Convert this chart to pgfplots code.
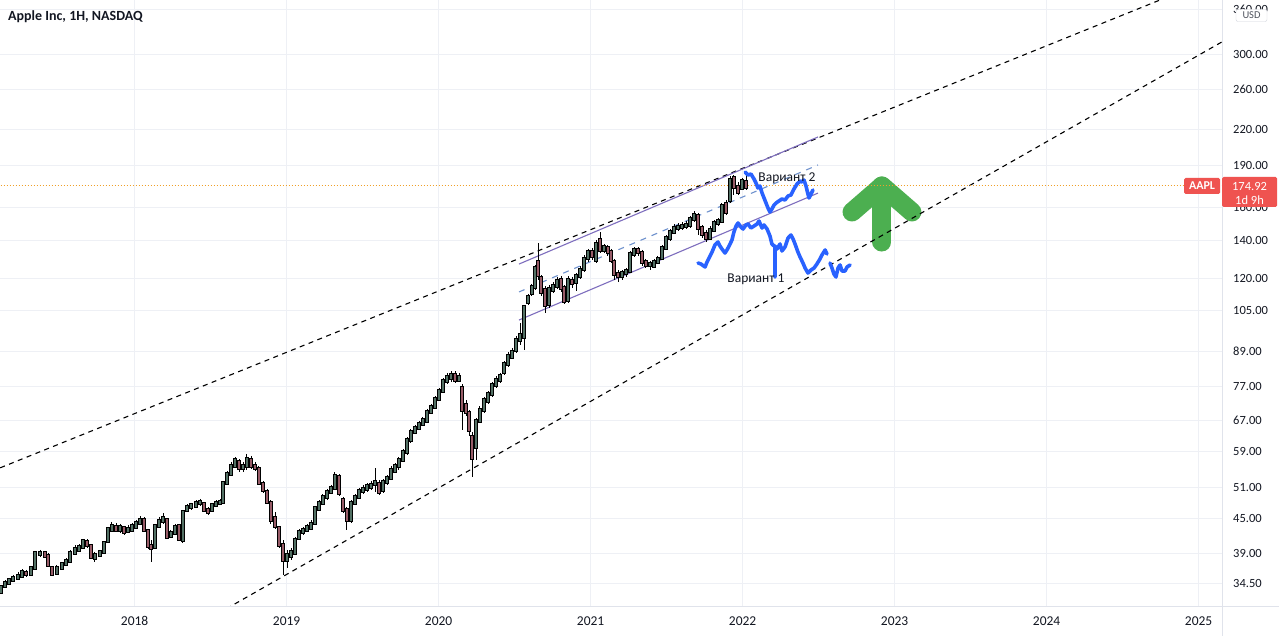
\documentclass[border=0pt]{standalone}
\usepackage{fontspec}
\setmainfont{Carlito}
\usepackage{pgfplots}
\usepackage{pgfplotstable}
\pgfplotsset{compat=1.18}
\definecolor{gridc}{RGB}{238,240,245}
\definecolor{axisc}{RGB}{224,227,235}
\definecolor{txt}{RGB}{19,23,34}
\definecolor{upc}{RGB}{82,112,100}
\definecolor{dnc}{RGB}{152,92,104}
\definecolor{purp}{RGB}{126,110,190}
\definecolor{midc}{RGB}{110,145,205}
\definecolor{bluec}{RGB}{41,98,255}
\definecolor{greenc}{RGB}{76,175,80}
\definecolor{redc}{RGB}{239,83,80}
\definecolor{orangec}{RGB}{240,160,40}

\pgfplotstableread{
x o h l c
2017.121 33.26 34.22 32.99 33.94
2017.148 34.08 34.93 33.81 34.50
2017.174 34.50 35.22 34.22 34.93
2017.200 34.93 35.65 34.65 35.22
2017.233 35.22 36.09 34.93 35.51
2017.259 35.51 36.53 35.22 36.09
2017.286 35.95 36.39 35.36 35.80
2017.318 35.80 36.98 35.51 36.68
2017.345 36.68 39.33 36.39 39.01
2017.378 38.85 39.49 38.38 39.01
2017.411 39.01 39.33 38.22 38.53
2017.430 38.53 39.01 36.83 37.13
2017.457 36.68 36.98 35.51 35.80
2017.489 35.95 37.13 35.65 36.68
2017.522 36.68 37.59 36.39 37.29
2017.549 37.29 38.22 36.98 37.75
2017.575 37.75 39.49 37.44 39.01
2017.608 39.01 40.30 38.69 39.64
2017.634 39.49 40.46 39.17 39.97
2017.661 39.97 41.30 39.64 40.96
2017.687 40.80 41.30 39.81 40.30
2017.713 40.13 40.46 38.06 38.38
2017.739 38.22 39.17 37.59 38.69
2017.772 38.69 39.49 38.53 39.17
2017.799 39.17 40.96 38.85 40.63
2017.825 40.96 43.38 40.63 43.03
2017.851 42.85 44.28 42.50 43.56
2017.878 43.38 44.10 42.50 42.85
2017.904 42.85 43.92 42.33 43.38
2017.930 43.20 43.56 41.98 42.50
2017.957 42.67 43.74 42.33 43.03
2017.983 42.85 44.10 42.50 43.56
2018.009 43.38 44.64 43.03 44.10
2018.036 44.10 45.37 43.74 44.64
2018.062 44.64 45.19 42.50 42.85
2018.088 42.67 43.03 39.64 40.13
2018.108 40.13 41.13 37.59 39.81
2018.134 39.97 43.92 39.64 43.56
2018.161 43.56 45.19 43.20 44.46
2018.187 44.46 45.93 43.92 45.00
2018.213 44.64 45.00 41.30 41.64
2018.239 41.81 42.85 41.47 42.33
2018.266 42.33 43.92 41.98 43.38
2018.292 43.56 43.92 40.96 41.30
2018.318 41.13 46.50 40.63 46.12
2018.345 46.50 47.65 46.12 47.07
2018.371 47.07 47.85 46.50 47.46
2018.404 47.27 48.44 46.88 47.85
2018.430 47.85 48.64 47.27 48.05
2018.457 47.65 48.05 46.12 46.50
2018.483 46.50 47.07 45.56 46.12
2018.509 46.50 47.85 46.12 47.46
2018.536 47.46 48.44 47.07 47.85
2018.562 47.85 48.64 47.46 48.05
2018.582 48.05 52.36 47.65 51.93
2018.608 51.93 54.54 51.51 53.87
2018.634 53.87 56.59 53.43 55.67
2018.661 55.67 57.75 55.21 57.05
2018.687 56.59 57.28 54.31 55.21
2018.713 55.21 56.59 54.31 55.67
2018.739 55.67 58.47 54.76 57.28
2018.766 57.05 57.99 54.99 55.67
2018.792 55.67 56.59 54.54 55.21
2018.818 54.99 55.67 51.51 51.93
2018.845 51.72 52.36 49.84 50.46
2018.871 50.05 50.67 47.65 48.05
2018.897 47.85 48.44 43.92 44.64
2018.924 45.00 46.12 43.03 43.56
2018.950 43.20 43.56 39.81 40.30
2018.976 40.30 41.13 35.65 37.90
2019.003 37.90 39.49 36.68 38.69
2019.029 38.53 39.81 37.90 39.17
2019.055 39.01 41.64 38.69 41.13
2019.082 41.47 43.03 41.13 42.50
2019.108 42.50 43.38 41.98 42.85
2019.134 42.85 43.92 42.50 43.38
2019.161 43.20 44.64 42.85 43.92
2019.187 44.10 47.27 43.74 46.88
2019.213 46.69 48.44 46.31 47.85
2019.239 47.85 49.64 47.46 49.04
2019.266 49.04 50.67 48.44 50.05
2019.292 50.05 51.51 49.64 50.88
2019.318 50.88 54.31 50.46 53.43
2019.345 53.21 53.87 49.24 49.84
2019.371 48.44 49.04 45.93 46.50
2019.397 46.50 47.07 42.85 44.64
2019.424 44.64 48.44 44.10 47.85
2019.450 47.85 49.64 47.46 49.04
2019.476 49.04 50.88 48.64 50.25
2019.503 50.25 51.51 49.64 50.67
2019.529 50.67 51.93 50.05 51.30
2019.555 51.09 52.36 50.46 51.51
2019.582 51.72 55.21 50.05 52.14
2019.608 51.72 52.57 49.44 50.05
2019.634 50.46 52.78 49.84 52.14
2019.661 52.14 53.65 51.51 53.00
2019.687 53.00 55.67 52.57 54.76
2019.713 54.54 56.35 54.09 55.67
2019.739 55.67 57.75 54.76 57.05
2019.766 57.05 59.67 56.59 58.95
2019.792 58.95 62.67 58.23 61.91
2019.818 61.91 64.76 61.16 63.97
2019.845 63.97 65.83 63.45 65.03
2019.871 65.03 66.92 64.49 66.10
2019.897 66.10 68.02 65.56 67.19
2019.924 66.92 70.28 66.37 69.42
2019.950 69.42 71.73 68.86 70.85
2019.976 70.85 74.11 70.28 73.21
2020.003 73.21 76.57 72.61 75.64
2020.029 75.64 79.77 75.02 78.80
2020.055 78.80 81.42 77.84 80.10
2020.082 79.77 82.08 78.48 80.75
2020.108 80.75 82.08 78.16 79.12
2020.134 79.12 81.42 78.48 80.10
2020.154 76.57 77.84 64.49 69.99
2020.180 71.44 72.91 68.29 69.42
2020.200 69.14 69.99 62.93 64.49
2020.220 62.67 63.97 53.21 57.52
2020.246 60.16 67.74 57.05 66.92
2020.272 66.92 71.14 66.37 69.99
2020.299 69.99 73.81 69.14 72.91
2020.325 72.61 75.64 71.73 74.72
2020.351 74.72 78.48 73.81 77.52
2020.378 77.52 80.42 76.57 79.12
2020.404 79.12 81.42 78.16 80.42
2020.430 81.75 85.51 80.75 84.47
2020.457 84.47 88.72 83.44 87.28
2020.483 86.93 90.18 86.22 88.72
2020.509 89.45 94.72 88.36 93.18
2020.536 93.18 99.89 91.30 95.11
2020.562 94.33 107.51 89.45 106.63
2020.588 108.84 112.46 107.51 111.09
2020.614 112.92 117.15 111.54 115.72
2020.634 115.72 126.62 114.31 125.07
2020.654 128.18 138.53 119.08 121.54
2020.674 120.06 121.54 111.54 113.38
2020.700 114.31 116.19 104.06 107.51
2020.726 107.95 116.67 106.20 114.78
2020.753 114.31 118.11 112.92 116.19
2020.779 116.19 120.55 114.78 118.59
2020.805 119.08 121.04 113.38 115.25
2020.825 115.25 116.67 107.95 109.28
2020.851 109.73 121.04 108.39 119.08
2020.878 118.59 120.55 115.25 117.63
2020.904 118.11 122.54 113.84 121.04
2020.930 121.04 126.10 119.57 124.05
2020.957 124.56 131.90 123.04 129.76
2020.983 130.29 135.17 128.18 133.52
2021.009 133.52 135.73 129.23 131.36
2021.036 129.23 140.24 127.65 137.97
2021.062 140.24 144.90 132.98 134.62
2021.088 134.62 137.97 132.98 136.28
2021.114 135.73 137.40 131.36 133.52
2021.134 133.52 135.17 127.65 129.23
2021.154 128.18 129.76 119.08 122.04
2021.180 122.04 124.05 118.11 121.04
2021.207 121.04 124.05 119.08 122.54
2021.233 122.54 125.07 120.55 123.54
2021.259 123.54 134.07 122.54 132.44
2021.286 132.44 136.28 130.82 134.62
2021.312 134.62 136.28 131.36 133.52
2021.338 132.98 134.62 126.10 128.18
2021.364 128.18 129.76 125.07 126.62
2021.391 126.62 128.70 124.05 127.13
2021.417 126.10 129.76 125.07 128.18
2021.443 128.18 131.36 127.13 129.76
2021.470 130.29 137.40 129.23 135.73
2021.496 135.73 143.13 134.62 141.39
2021.522 141.39 146.69 139.67 144.90
2021.549 144.90 149.72 143.72 147.29
2021.575 147.29 150.33 145.49 147.90
2021.601 147.90 150.95 146.09 148.50
2021.628 148.50 151.57 146.69 149.11
2021.654 149.11 154.70 147.29 152.81
2021.680 152.81 157.89 150.95 155.33
2021.707 154.70 156.61 143.13 147.29
2021.733 147.29 149.11 141.39 143.72
2021.759 143.72 146.09 139.10 141.39
2021.786 141.39 148.50 140.24 146.09
2021.812 146.09 152.19 144.90 150.33
2021.838 150.33 153.44 148.50 151.57
2021.864 151.57 163.15 150.33 161.16
2021.891 162.48 165.16 155.33 157.25
2021.917 165.16 182.19 163.15 179.23
2021.943 180.70 182.93 168.57 174.17
2021.970 174.17 177.77 168.57 170.65
2021.996 173.46 180.70 172.05 178.50
2022.022 177.77 184.43 172.05 174.17
}\candles

\begin{document}
\begin{tikzpicture}
\path[use as bounding box] (0,0) rectangle (1279pt,636pt);
\fill[white] (0,0) rectangle (1279pt,636pt);
\begin{axis}[
  at={(0pt,29pt)}, anchor=south west, scale only axis,
  width=1222pt, height=607pt,
  xmin=2017.1145, xmax=2025.154,
  ymode=log, ymin=31.28, ymax=374.2,
  axis line style={draw=none},
  major tick length=0pt,
  grid=major, major grid style={draw=gridc, line width=1pt},
  xtick={2018,2019,2020,2021,2022,2023,2024,2025},
  xticklabels={2018,2019,2020,2021,2022,2023,2024,2025},
  xticklabel style={anchor=center, yshift=-14pt, font=\fontsize{13.5}{14}\selectfont, text=txt},
  ytick={34.5,39,45,51,59,67,77,89,105,120,140,160,190,220,260,300,360},
  yticklabels={34.50,39.00,45.00,51.00,59.00,67.00,77.00,89.00,105.00,120.00,140.00,160.00,190.00,220.00,260.00,300.00,360.00},
  yticklabel pos=right,
  yticklabel style={anchor=west, inner sep=0pt, xshift=11pt, font=\fontsize{12.5}{14}\selectfont, text=txt},
  clip=true,
]
% green arrow
\addplot[greenc, line width=19pt, line cap=round, line join=round] coordinates {(2022.917,139.10) (2022.917,174.89)};
\addplot[greenc, line width=19pt, line cap=round, line join=round] coordinates {(2022.720,157.25) (2022.917,174.89) (2023.114,157.25)};
% long dashed trend lines
\addplot[black, line width=1.1pt, dash pattern=on 5pt off 4.5pt] coordinates {(2017.0,53.67) (2025.2,419.2)};
\addplot[black, line width=1.1pt, dash pattern=on 5pt off 4.5pt] coordinates {(2018.55,30.47) (2025.3,332.0)};
% regression channel
\addplot[purp, line width=1.1pt] coordinates {(2020.529,127.1) (2022.496,213.7)};
\addplot[midc, line width=1.1pt, dash pattern=on 6pt off 6pt] coordinates {(2020.529,113.4) (2022.496,190.6)};
\addplot[purp, line width=1.1pt] coordinates {(2020.529,101.1) (2022.496,169.9)};
% last price line
\addplot[orangec, line width=1pt, dash pattern=on 1pt off 2pt] coordinates {(2017.0,174.92) (2025.3,174.92)};
% candles: wicks
\addplot[draw=none, mark=none, error bars/.cd, y dir=both, y explicit, error mark=none,
  error bar style={draw=black, line width=0.9pt}]
  table[x=x, y=h, y error plus expr=0, y error minus expr={\thisrow{h}-\thisrow{l}}] {\candles};
% up bodies
\addplot[draw=none, mark=none, restrict expr to domain={\thisrow{c}-\thisrow{o}}{0:1000},
  error bars/.cd, y dir=both, y explicit, error mark=none,
  error bar style={draw=black, line width=3.4pt, line cap=rect}]
  table[x=x, y=c, y error plus expr=0, y error minus expr={\thisrow{c}-\thisrow{o}}] {\candles};
\addplot[draw=none, mark=none, restrict expr to domain={\thisrow{c}-\thisrow{o}}{0:1000},
  error bars/.cd, y dir=both, y explicit, error mark=none,
  error bar style={draw=upc, line width=1.6pt, line cap=rect}]
  table[x=x, y=c, y error plus expr=0, y error minus expr={\thisrow{c}-\thisrow{o}}] {\candles};
% down bodies
\addplot[draw=none, mark=none, restrict expr to domain={\thisrow{o}-\thisrow{c}}{0.00001:1000},
  error bars/.cd, y dir=both, y explicit, error mark=none,
  error bar style={draw=black, line width=3.4pt, line cap=rect}]
  table[x=x, y=o, y error plus expr=0, y error minus expr={\thisrow{o}-\thisrow{c}}] {\candles};
\addplot[draw=none, mark=none, restrict expr to domain={\thisrow{o}-\thisrow{c}}{0.00001:1000},
  error bars/.cd, y dir=both, y explicit, error mark=none,
  error bar style={draw=dnc, line width=1.6pt, line cap=rect}]
  table[x=x, y=o, y error plus expr=0, y error minus expr={\thisrow{o}-\thisrow{c}}] {\candles};
% scenario 2
\addplot[bluec, line width=3.6pt, line join=round, line cap=round] coordinates {
(2022.016,185.19)(2022.036,182.93)(2022.055,183.68)(2022.075,179.97)(2022.088,177.05)(2022.101,173.46)(2022.114,174.89)(2022.128,169.95)(2022.141,166.52)(2022.154,163.15)(2022.167,159.85)(2022.180,157.25)(2022.193,159.20)(2022.207,161.82)(2022.220,163.15)(2022.239,164.49)(2022.259,165.84)(2022.279,165.16)(2022.299,167.88)(2022.318,168.57)(2022.338,172.76)(2022.358,176.32)(2022.378,178.50)(2022.391,177.77)(2022.404,179.23)(2022.417,174.89)(2022.430,169.26)(2022.437,166.52)(2022.450,169.26)(2022.463,172.05)};
% scenario 1
\addplot[bluec, line width=3.6pt, line join=round, line cap=round] coordinates {
(2021.707,127.65)(2021.726,127.13)(2021.753,125.59)(2021.766,128.18)(2021.786,131.36)(2021.799,133.52)(2021.818,137.40)(2021.838,139.10)(2021.851,136.84)(2021.864,135.17)(2021.884,132.98)(2021.897,134.62)(2021.911,136.84)(2021.930,140.24)(2021.943,144.90)(2021.957,148.50)(2021.970,150.33)(2021.989,147.90)(2022.003,146.69)(2022.022,149.11)(2022.036,149.72)(2022.055,147.29)(2022.075,148.50)(2022.095,149.72)(2022.108,151.57)(2022.128,147.29)(2022.141,149.11)(2022.161,146.69)(2022.180,142.55)(2022.193,137.97)(2022.207,136.84)(2022.213,136.84)(2022.213,120.50)(2022.213,136.84)(2022.226,135.17)(2022.246,137.97)(2022.259,134.07)(2022.279,136.28)(2022.299,141.39)(2022.318,143.13)(2022.332,140.81)(2022.345,137.97)(2022.364,133.52)(2022.378,130.82)(2022.397,127.65)(2022.411,125.07)(2022.430,122.54)(2022.450,124.05)(2022.470,125.07)(2022.489,127.13)(2022.509,129.76)(2022.522,131.90)(2022.543,134.62)(2022.555,132.44)};
\addplot[bluec, line width=3.6pt, line join=round, line cap=round] coordinates {
(2022.575,127.65)(2022.588,125.07)(2022.601,122.04)(2022.614,120.55)(2022.628,125.07)(2022.641,126.62)(2022.654,123.54)(2022.674,123.54)(2022.687,125.59)(2022.707,126.62)};
% labels
\node[anchor=base west, font=\fontsize{13.5}{15}\selectfont, text=txt, inner sep=0pt] at (axis cs:2022.103,178.1) {Вариант 2};
\node[anchor=base west, font=\fontsize{13.5}{15}\selectfont, text=txt, inner sep=0pt] at (axis cs:2021.899,117.97) {Вариант 1};
\end{axis}
% axis borders
\draw[axisc, line width=1pt] (0,29pt) -- (1279pt,29pt);
\draw[axisc, line width=1pt] (1222pt,0) -- (1222pt,636pt);
% title
\node[anchor=base west, font=\bfseries\fontsize{14}{16}\selectfont, text=txt, inner sep=0pt] at (8pt,615.3pt) {Apple Inc, 1H, NASDAQ};
% USD box
\draw[draw={rgb,255:red,209;green,212;blue,220}, fill=white, rounded corners=2pt] (1236pt,614.5pt) rectangle (1267pt,626.5pt);
\node[font=\fontsize{10.5}{12}\selectfont, text={rgb,255:red,80;green,84;blue,94}, inner sep=0pt] at (1251.5pt,620.5pt) {USD};
% price labels
\fill[redc, rounded corners=1.5pt] (1184pt,442pt) rectangle (1220pt,458pt);
\node[font=\bfseries\fontsize{12}{13}\selectfont, text=white, inner sep=0pt] at (1202pt,450pt) {AAPL};
\fill[redc, rounded corners=1.5pt] (1222pt,429pt) rectangle (1277pt,459pt);
\node[font=\fontsize{12.5}{13}\selectfont, text=white, inner sep=0pt] at (1249.5pt,449pt) {174.92};
\node[font=\fontsize{12.5}{13}\selectfont, text=white, inner sep=0pt] at (1249.5pt,436pt) {1d 9h};
\end{tikzpicture}
\end{document}
